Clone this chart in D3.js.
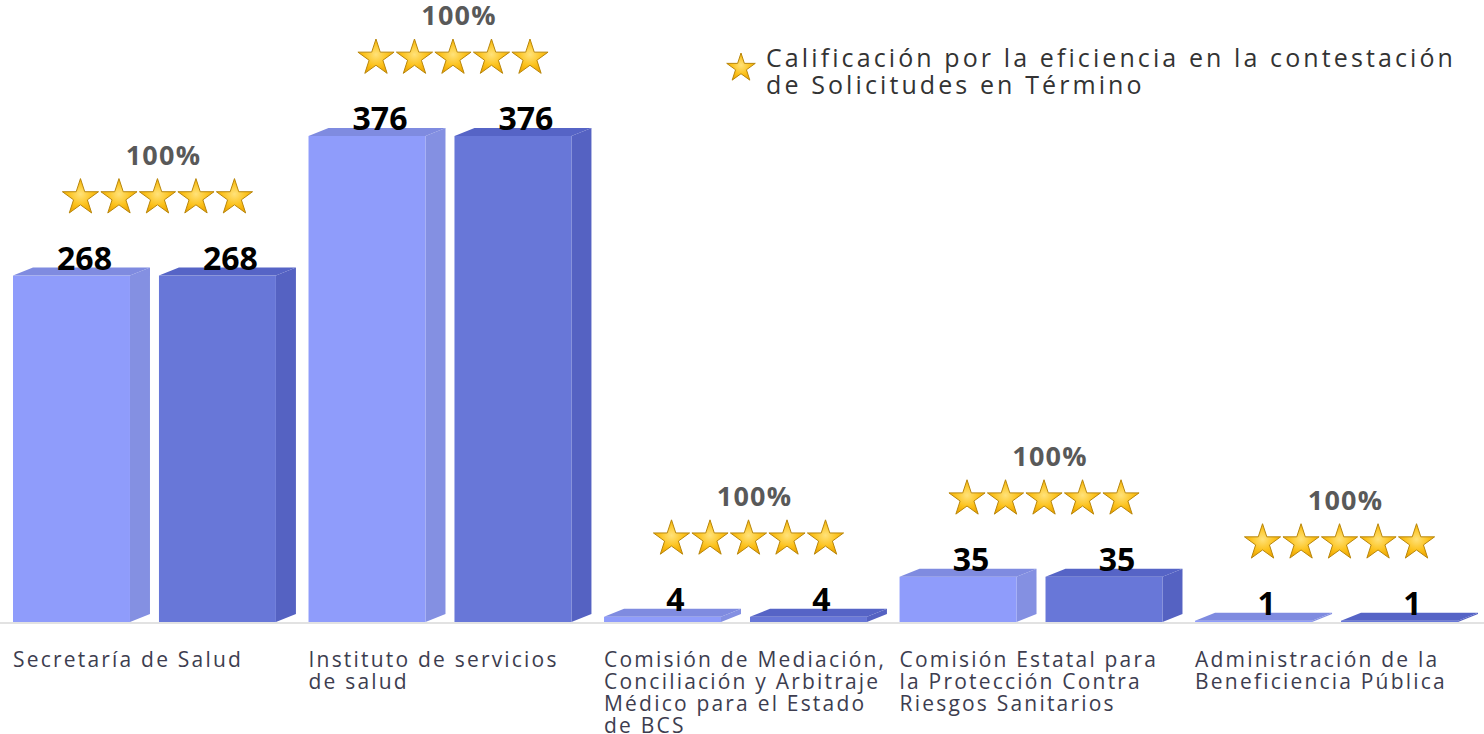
<!DOCTYPE html>
<html>
<head>
<meta charset="utf-8">
<script src="https://cdn.jsdelivr.net/npm/d3@7"></script>
<style>
  html, body { margin: 0; padding: 0; background: #ffffff; }
  svg { display: block; }
</style>
</head>
<body>
<svg id="chart" width="1484" height="734"></svg>
<script>
// ---- data ----
const categories = [
  "Secretaría de Salud",
  "Instituto de servicios de salud",
  "Comisión de Mediación, Conciliación y Arbitraje Médico para el Estado de BCS",
  "Comisión Estatal para la Protección Contra Riesgos Sanitarios",
  "Administración de la Beneficiencia Pública"
];
const categoryLines = [
  ["Secretaría de Salud"],
  ["Instituto de servicios", "de salud"],
  ["Comisión de Mediación,", "Conciliación y Arbitraje", "Médico para el Estado", "de BCS"],
  ["Comisión Estatal para", "la Protección Contra", "Riesgos Sanitarios"],
  ["Administración de la", "Beneficiencia Pública"]
];
const recibidas = [268, 376, 4, 35, 1];
const contestadas = [268, 376, 4, 35, 1];
const calificacion = [100, 100, 100, 100, 100];   // percent
const estrellas = [5, 5, 5, 5, 5];
const legendLines = ["Calificación por la eficiencia en la contestación", "de Solicitudes en Término"];

// ---- layout ----
const svg = d3.select("#chart");
const baseY = 622;
const dx = 20, dy = 8;

const x0 = d3.scaleBand().domain(categories).range([13, 1478]).paddingInner(0.0426).paddingOuter(0);
const x1 = d3.scaleBand().domain(["recibidas", "contestadas"]).range([0, x0.bandwidth()]).paddingInner(0.0616).paddingOuter(0);
const y = d3.scaleLinear().domain([0, 376]).range([baseY, baseY - 486]);

const palette = {
  recibidas:   { front: "#8f9cfb", side: "#8490e2", top: "#7f8be0" },
  contestadas: { front: "#6877d8", side: "#5562c2", top: "#5664c6" }
};

const defs = svg.append("defs");
const grad = defs.append("radialGradient").attr("id", "starGrad").attr("cx", "50%").attr("cy", "45%").attr("r", "55%");
grad.append("stop").attr("offset", "0%").attr("stop-color", "#ffe27a");
grad.append("stop").attr("offset", "60%").attr("stop-color", "#fcc21c");
grad.append("stop").attr("offset", "100%").attr("stop-color", "#eea500");

// axis line
const xAxis = d3.axisBottom(x0).tickSize(0).tickFormat("");
const axisG = svg.append("g").attr("transform", `translate(0,${baseY + 1})`).call(xAxis);
axisG.select(".domain").attr("d", "M0,0H1484").attr("stroke", "#d9d9d9").attr("stroke-width", 1.5);

const rows = categories.map((c, i) => ({
  cat: c, i,
  bars: [
    { key: "recibidas", value: recibidas[i] },
    { key: "contestadas", value: contestadas[i] }
  ]
}));

const groups = svg.append("g").selectAll("g.grp").data(rows).join("g")
  .attr("class", "grp")
  .attr("transform", d => `translate(${x0(d.cat)},0)`);

const bar = groups.selectAll("g.bar").data(d => d.bars).join("g").attr("class", "bar");

bar.each(function(d) {
  const g = d3.select(this);
  const xs = x1(d.key);
  const w = x1.bandwidth() - dx;
  const yt = y(d.value);
  const col = palette[d.key];
  g.append("path")
    .attr("d", `M${xs + w},${yt} L${xs + w + dx},${yt - dy} L${xs + w + dx},${baseY - dy} L${xs + w},${baseY} Z`)
    .attr("fill", col.side);
  g.append("rect").attr("x", xs).attr("y", yt).attr("width", w).attr("height", baseY - yt).attr("fill", col.front);
  g.append("path")
    .attr("d", `M${xs},${yt} L${xs + dx},${yt - dy} L${xs + w + dx},${yt - dy} L${xs + w},${yt} Z`)
    .attr("fill", col.top);
  g.append("text")
    .attr("x", xs + w / 2 + 13)
    .attr("y", yt - 6)
    .attr("text-anchor", "middle")
    .attr("font-family", "'Open Sans', sans-serif")
    .attr("font-weight", 700)
    .attr("font-size", 32)
    .attr("fill", "#000")
    .text(d.value);
});

// stars + percentage
const starSym = d3.symbol().type(d3.symbolStar).size(19 * 19 / 0.8908130915292852);
groups.each(function(d) {
  const g = d3.select(this);
  const cx = x0.bandwidth() / 2 + 3;
  const top = y(Math.max(recibidas[d.i], contestadas[d.i]));
  const sy = top - 80;
  const n = estrellas[d.i];
  for (let k = 0; k < n; k++) {
    g.append("path")
      .attr("d", starSym())
      .attr("transform", `translate(${cx + (k - (n - 1) / 2) * 38.5},${sy + 2})`)
      .attr("fill", "url(#starGrad)")
      .attr("stroke", "#b8860b")
      .attr("stroke-width", 1);
  }
  g.append("text")
    .attr("x", cx + 6)
    .attr("y", sy - 31)
    .attr("text-anchor", "middle")
    .attr("font-family", "'Open Sans', sans-serif")
    .attr("font-weight", 700)
    .attr("font-size", 27)
    .attr("letter-spacing", 1.2)
    .attr("fill", "#595959")
    .text(calificacion[d.i] + "%");
});

// category labels
groups.each(function(d) {
  const t = d3.select(this).append("text")
    .attr("x", 0)
    .attr("y", 667)
    .attr("font-family", "'Open Sans', sans-serif")
    .attr("font-size", 21)
    .attr("letter-spacing", 2.2)
    .attr("fill", "#3d3d4f");
  categoryLines[d.i].forEach((ln, j) => {
    t.append("tspan").attr("x", 0).attr("dy", j === 0 ? 0 : 22).text(ln);
  });
});

// legend
const lg = svg.append("g");
lg.append("path")
  .attr("d", d3.symbol().type(d3.symbolStar).size(15 * 15 / 0.8908130915292852)())
  .attr("transform", "translate(741,68)")
  .attr("fill", "url(#starGrad)")
  .attr("stroke", "#b8860b")
  .attr("stroke-width", 1);
const lt = lg.append("text")
  .attr("x", 766).attr("y", 67)
  .attr("font-family", "'Open Sans', sans-serif")
  .attr("font-size", 25)
  .attr("letter-spacing", 3.1)
  .attr("fill", "#333333");
legendLines.forEach((ln, j) => lt.append("tspan").attr("x", 766).attr("dy", j === 0 ? 0 : 27).text(ln));
</script>
</body>
</html>
